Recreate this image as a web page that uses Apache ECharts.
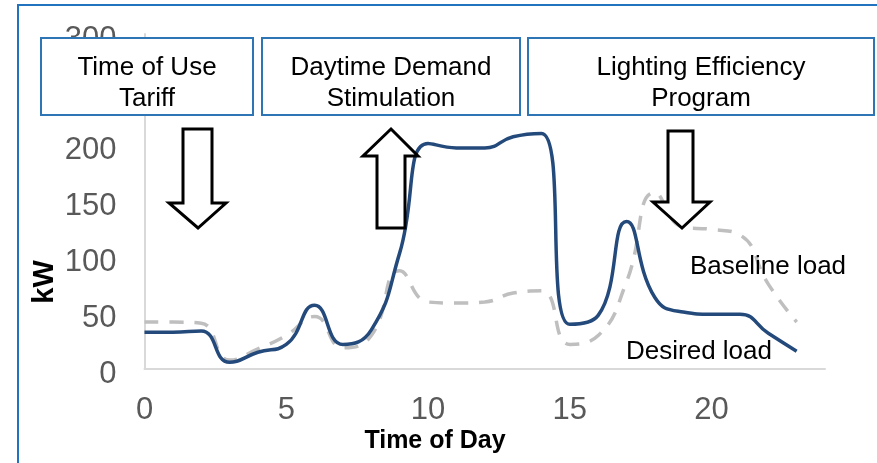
<!DOCTYPE html>
<html>
<head>
<meta charset="utf-8">
<script src="https://cdn.jsdelivr.net/npm/echarts@6/dist/echarts.min.js"></script>
<style>
html,body{margin:0;padding:0;background:#fff;}
#chart{width:877px;height:463px;}
</style>
</head>
<body>
<div id="chart"></div>
<script>
// ---- data ----
var hours = [0,1,2,3,4,5,6,7,8,9,10,11,12,13,14,15,16,17,18,19,20,21,22,23];
var desiredLoad = [33,33,34,6,15,22,57,22,35,104,202,198,198,208,211,40,48,132,64,51,49,49,32,16];
var baselineLoad = [42,42,41,8,18,30,47,19,30,88,60,59,60,68,70,22,30,78,158,127,125,120,76,42];
var xTicks = [0,5,10,15,20];
var yTicks = [0,50,100,150,200,250,300];
var boxLabels = ['Time of Use\nTariff','Daytime Demand\nStimulation','Lighting Efficiency\nProgram'];
var seriesNames = ['Desired load','Baseline load'];

function pairs(xs, ys){ return xs.map(function(x,i){ return [x, ys[i]]; }); }

var FONT = '"Liberation Sans", Arial, sans-serif';
var BLUE = '#2e75b6';

var chart = echarts.init(document.getElementById('chart'), null, {renderer:'canvas'});

function box(x, w, label){
  return [
    {type:'rect', shape:{x:x, y:38, width:w, height:77}, style:{fill:'#fff', stroke:BLUE, lineWidth:2}, z:100},
    {type:'text', x:x + w/2, y:83, style:{text:label, font:'26px ' + FONT, fill:'#000', align:'center', verticalAlign:'middle', lineHeight:31}, z:101}
  ];
}
function arrow(pts){
  return {type:'polygon', shape:{points:pts}, style:{fill:'#fff', stroke:'#000', lineWidth:3, lineJoin:'miter'}, z:100};
}

var graphics = [].concat(
  box(41, 212, boxLabels[0]),
  box(262, 258, boxLabels[1]),
  box(528, 346, boxLabels[2]),
  [
    arrow([[183,129],[212,129],[212,203],[226,203],[198,228],[169,203],[183,203]]),
    arrow([[391,129],[418,156],[405,156],[405,228],[377,228],[377,156],[363,156]]),
    arrow([[668,131],[693,131],[693,202],[710,202],[682,228],[653,202],[668,202]]),
    {type:'rect', shape:{x:18, y:5, width:880, height:480}, style:{fill:null, stroke:'#2173c0', lineWidth:2}, z:120},
    {type:'text', x:768, y:267, style:{text:seriesNames[1], font:'26px ' + FONT, fill:'#000', align:'center', verticalAlign:'middle'}, z:90},
    {type:'text', x:699, y:352, style:{text:seriesNames[0], font:'26px ' + FONT, fill:'#000', align:'center', verticalAlign:'middle'}, z:90},
    {type:'text', x:435, y:441, style:{text:'Time of Day', font:'bold 25px ' + FONT, fill:'#000', align:'center', verticalAlign:'middle'}, z:90},
    {type:'text', x:45, y:282, rotation:Math.PI/2, style:{text:'kW', font:'bold 29px ' + FONT, fill:'#000', align:'center', verticalAlign:'middle'}, z:90}
  ]
);

var option = {
  animation:false,
  backgroundColor:'#fff',
  grid:{left:144.5, right:52, top:34, bottom:94, containLabel:false},
  xAxis:{
    type:'value', min:0, max:24, interval:5,
    axisLine:{show:true, lineStyle:{color:'#d9d9d9', width:2}},
    axisTick:{show:false},
    splitLine:{show:false},
    axisLabel:{color:'#595959', fontSize:31, fontFamily:FONT, margin:26,
      showMaxLabel:false,
      formatter:function(v){ return xTicks.indexOf(v) >= 0 ? String(v) : ''; }}
  },
  yAxis:{
    type:'value', min:0, max:300, interval:50,
    axisLine:{show:true, lineStyle:{color:'#d9d9d9', width:2}},
    axisTick:{show:false},
    splitLine:{show:false},
    axisLabel:{color:'#595959', fontSize:31, fontFamily:FONT, margin:28,
      formatter:function(v){ return yTicks.indexOf(v) >= 0 ? '{t|' + v + '}' : ''; },
      rich:{t:{color:'#595959', fontSize:31, fontFamily:FONT, padding:[10,0,0,0]}}}
  },
  series:[
    {name:seriesNames[1], type:'line', data:pairs(hours, baselineLoad), smooth:0.5, showSymbol:false,
     lineStyle:{color:'#bfbfbf', width:3.5, type:[14,11]}, z:2},
    {name:seriesNames[0], type:'line', data:pairs(hours, desiredLoad), smooth:0.5, showSymbol:false,
     lineStyle:{color:'#244a7c', width:3.5}, z:3}
  ],
  graphic:graphics
};
chart.setOption(option);
</script>
</body>
</html>
